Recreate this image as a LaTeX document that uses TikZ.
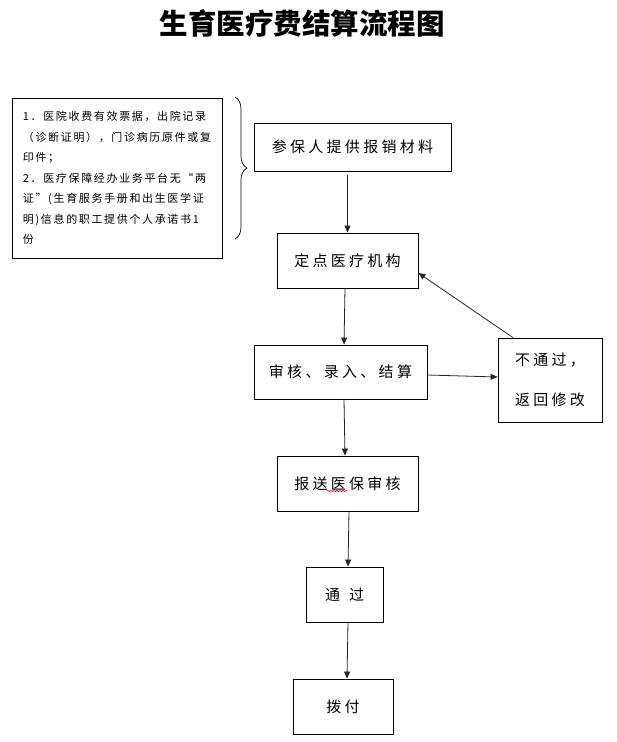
\documentclass[tikz,border=0pt]{standalone}
\usepackage{fontspec}
\newfontfamily\cjktitle{Noto Sans CJK SC}
\newfontfamily\cjksp{Noto Sans CJK SC}[LetterSpace=22]
\newfontfamily\cjksmall{Noto Sans CJK SC}[LetterSpace=15]
\usetikzlibrary{arrows.meta,calc,decorations.pathreplacing,decorations.pathmorphing}
\tikzset{
  box/.style={draw=black, line width=0.8pt, inner sep=0pt, font=\cjksp\fontsize{15}{18}\selectfont},
  arr/.style={draw=black!85, line width=0.8pt, -{Triangle[length=7pt,width=6pt]}},
}
\begin{document}
\begin{tikzpicture}[x=1pt,y=-1pt]
\useasboundingbox (0,0) rectangle (617,742);
\fill[white] (0,0) rectangle (617,742);
\node[font=\cjktitle\bfseries\fontsize{28.5}{32}\selectfont] (title) at (302,23) {生育医疗费结算流程图};
\node[box, minimum width=210pt, minimum height=160pt, align=left,
      font=\cjksmall\fontsize{11}{20.5}\selectfont] (n0) at (117,178)
 {1．医院收费有效票据，出院记录\\（诊断证明），门诊病历原件或复\\印件；\\2．医疗保障经办业务平台无“两\\证”(生育服务手册和出生医学证\\明)信息的职工提供个人承诺书1\\份};
\draw[line width=0.7pt, decorate, decoration={brace, amplitude=12pt}] (235,97) -- (235,239);
\node[box, minimum width=197pt, minimum height=48pt] (n1) at (352.5,147) {参保人提供报销材料};
\node[box, minimum width=141pt, minimum height=55pt] (n2) at (347.5,260.5) {定点医疗机构};
\node[box, minimum width=173pt, minimum height=54pt] (n3) at (340.5,372) {审核、录入、结算};
\node[box, minimum width=104pt, minimum height=84pt, align=left,
      font=\cjksp\fontsize{15}{40}\selectfont] (n4) at (550,380) {不通过，\\返回修改};
\node[box, minimum width=141pt, minimum height=55pt] (n5) at (347.5,483.5) {报送医保审核};
\node[box, minimum width=77pt, minimum height=55pt] (n6) at (344.5,594.5) {通\hspace{0.6em}过};
\node[box, minimum width=100pt, minimum height=55pt] (n7) at (343,706.5) {拨付};
\draw[red, line width=0.5pt, decorate, decoration={snake, amplitude=0.8pt, segment length=3pt}] (327,491) -- (347,491);
\draw[arr] ($(n1.south -| n2.north)+(0,4)$) -- (n2.north);
\draw[arr] ([xshift=-2.5pt]n2.south) -- ([xshift=3.5pt]n3.north);
\draw[arr] ([yshift=-3pt]n3.east) -- ([yshift=3pt]n4.west);
\draw[arr] ([xshift=-37pt]n4.north) -- ([yshift=-12.5pt]n2.east);
\draw[arr] ([xshift=3.5pt]n3.south) -- ([xshift=-2.5pt]n5.north);
\draw[arr] ([xshift=1.5pt]n5.south) -- ([xshift=3.5pt]n6.north);
\draw[arr] ([xshift=3.5pt]n6.south) -- ([xshift=4pt]n7.north);
\end{tikzpicture}
\end{document}
